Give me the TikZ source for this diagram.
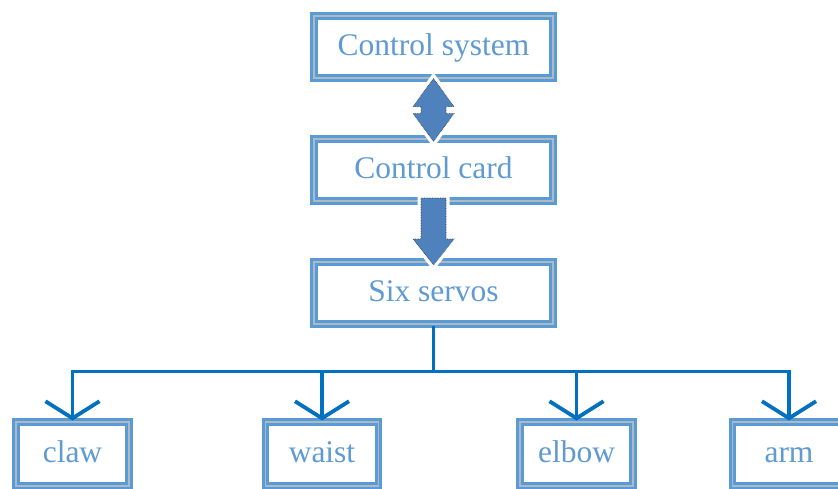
\documentclass[tikz,border=0pt]{standalone}
\usepackage{fontspec}
\setmainfont{Liberation Serif}
\usetikzlibrary{arrows.meta,calc}

\definecolor{boxblue}{RGB}{91,155,213}
\definecolor{boxgray}{RGB}{175,185,195}
\definecolor{textblue}{RGB}{95,155,210}
\definecolor{linkblue}{RGB}{0,112,192}
\definecolor{arrowfill}{RGB}{79,129,189}
\definecolor{arrowedge}{RGB}{45,60,85}

\tikzset{
box/.style={draw=boxblue, line width=3pt, double=boxgray, double distance=1.6pt,
  fill=white, inner sep=0pt, text=textblue, text height=24pt, text depth=8pt,
  font=\fontsize{31.5}{37}\selectfont},
bigbox/.style={box, minimum width=239, minimum height=62},
leafbox/.style={box, minimum width=113, minimum height=64},
blockarrow/.style={fill=arrowfill, draw=arrowedge, line width=0.6pt, densely dotted,
  preaction={draw=white, solid, line width=7pt}},
link/.style={draw=linkblue, line width=3.8pt},
linktip/.style={link, -{Straight Barb[length=17pt,width=54pt]}}
}
\tikzset{every picture/.style={line width=0.75pt}}

\begin{document}
\begin{tikzpicture}[x=1pt,y=1pt,yscale=-1,xscale=1]
\useasboundingbox (0,0) rectangle (838,488);

%Shape: Boxes of the chain
\node (sys) at (433.5,47) [bigbox] {Control system};
\node (card) at (433.5,170) [bigbox] {Control card};
\node (servo) at (433.5,293) [bigbox] {Six servos};

%Shape: Boxes of the joints
\node (claw) at (72.5,454) [leafbox] {claw};
\node (waist) at (322,454) [leafbox] {waist};
\node (elbow) at (576.5,454) [leafbox] {elbow};
\node (arm) at (789,454) [leafbox] {arm};

%Block Arrow: both ways
\coordinate (mid1) at ($(sys.south)!0.5!(card.north)$);
\draw [blockarrow] ($(mid1)+(0,-30)$) -- ++(20.5,28) -- ++(-8,0) -- ++(0,7) -- ++(8,0)
  -- ++(-20.5,28) -- ++(-20.5,-28) -- ++(8,0) -- ++(0,-7) -- ++(-8,0) -- cycle ;
%Block Arrow: down
\coordinate (mid2) at ($(card.south)!0.5!(servo.north)$);
\draw [blockarrow] ($(mid2)+(-12.5,-33.5)$) -- ++(25,0) -- ++(0,41) -- ++(8,0)
  -- ++(-20.5,26) -- ++(-20.5,-26) -- ++(8,0) -- cycle ;

%Straight Lines: tree to the joints
\coordinate (bus) at ($(servo.south)+(0,46)$);
\draw [link] (servo.south) -- (bus) ;
\draw [linktip] (bus) -| (claw.north) ;
\draw [linktip] (bus) -| (waist.north) ;
\draw [linktip] (bus) -| (elbow.north) ;
\draw [linktip] (bus) -| (arm.north) ;

\end{tikzpicture}
\end{document}
